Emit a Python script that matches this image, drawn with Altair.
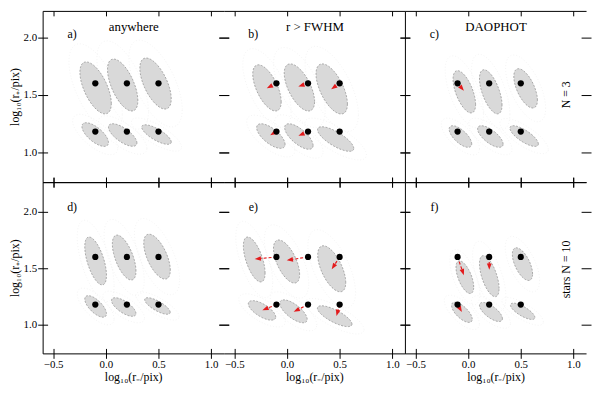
import altair as alt
import numpy as np
import pandas as pd

# ---------------- data ----------------
X_TRUE = [-0.1, 0.2, 0.5]          # log10(r-) of the input sources (dots)
Y_TRUE = [1.6, 1.18]               # log10(r+) upper row / lower row

PANEL_TAGS = ["a)", "b)", "c)", "d)", "e)", "f)"]
PANEL_TITLES = ["anywhere", "r > FWHM", "DAOPHOT", "", "", ""]
ROW_LABELS = ["N = 3", "stars  N = 10"]
X_TITLE = "log\u2081\u2080(r\u208b/pix)"
Y_TITLE = "log\u2081\u2080(r\u208a/pix)"
X_TICKS = [-0.5, 0.0, 0.5, 1.0]
Y_TICKS = [1.0, 1.5, 2.0]

# ellipse order in each panel: UL, UM, UR, LL, LM, LR
CX = [
    [-0.097, 0.160, 0.472, -0.101, 0.160, 0.481],
    [-0.190, 0.118, 0.425, -0.153, 0.113, 0.462],
    [-0.036, 0.215, 0.546, -0.073, 0.211, 0.532],
    [-0.097, 0.174, 0.486, -0.097, 0.170, 0.490],
    [-0.311, -0.004, 0.425, -0.237, 0.062, 0.453],
    [-0.031, 0.201, 0.516, -0.059, 0.217, 0.518],
]
CY = [
    [1.560, 1.585, 1.598, 1.154, 1.150, 1.154],
    [1.560, 1.564, 1.551, 1.141, 1.137, 1.115],
    [1.526, 1.526, 1.556, 1.137, 1.137, 1.141],
    [1.565, 1.595, 1.603, 1.164, 1.159, 1.168],
    [1.578, 1.560, 1.496, 1.129, 1.121, 1.078],
    [1.422, 1.431, 1.537, 1.112, 1.115, 1.121],
]
HX = [
    [0.149, 0.144, 0.149, 0.126, 0.135, 0.140],
    [0.135, 0.144, 0.149, 0.135, 0.135, 0.172],
    [0.107, 0.107, 0.112, 0.107, 0.121, 0.135],
    [0.103, 0.112, 0.126, 0.103, 0.116, 0.121],
    [0.103, 0.124, 0.133, 0.130, 0.130, 0.164],
    [0.084, 0.093, 0.096, 0.098, 0.109, 0.116],
]
HY = [
    [0.226, 0.226, 0.222, 0.103, 0.098, 0.085],
    [0.201, 0.205, 0.218, 0.107, 0.111, 0.107],
    [0.184, 0.192, 0.171, 0.094, 0.094, 0.090],
    [0.211, 0.198, 0.198, 0.095, 0.082, 0.073],
    [0.198, 0.190, 0.203, 0.086, 0.101, 0.092],
    [0.144, 0.181, 0.144, 0.089, 0.084, 0.072],
]
RHO = [-0.60, -0.60, -0.60, -0.68, -0.70, -0.76]

# arrow ends (estimated positions), None = no arrow
ARROW_END = [
    [None, None, None, None, None, None],
    [(-0.165, 1.570), (0.136, 1.581), (0.444, 1.564), (-0.134, 1.162), (0.136, 1.154), None],
    [(-0.059, 1.556), None, None, None, None, None],
    [None, None, None, None, None, None],
    [(-0.277, 1.584), (0.027, 1.575), (0.441, 1.515), (-0.206, 1.141), (0.090, 1.129), (0.478, 1.106)],
    [(-0.050, 1.466), (0.201, 1.515), None, (-0.074, 1.138), None, None],
]

# ---------------- layout / style ----------------
FONT = "Liberation Serif"
W, H = 183, 173
XDOM = [-0.6, 1.12]
YDOM = [[0.74, 2.23], [0.75, 2.26]]
GRAY = "#d9d9d9"
RED = "#e31a1c"


def area_df(p, k, n=48):
    rows = []
    u = -np.cos(np.linspace(0, np.pi, n))
    for i in range(6):
        s = np.sqrt(1 - RHO[i] ** 2) * np.sqrt(np.clip(1 - u ** 2, 0, None))
        xs = CX[p][i] + k * HX[p][i] * u
        lo = CY[p][i] + k * HY[p][i] * (RHO[i] * u - s)
        hi = CY[p][i] + k * HY[p][i] * (RHO[i] * u + s)
        for a, b, c in zip(xs, lo, hi):
            rows.append({"id": i, "x": a, "y": b, "y2": c})
    return pd.DataFrame(rows)


def outline_df(p, k, n=90):
    rows = []
    t = np.linspace(0, 2 * np.pi, n)
    for i in range(6):
        xs = CX[p][i] + k * HX[p][i] * np.cos(t)
        ys = CY[p][i] + k * HY[p][i] * (RHO[i] * np.cos(t) + np.sqrt(1 - RHO[i] ** 2) * np.sin(t))
        for j, (a, b) in enumerate(zip(xs, ys)):
            rows.append({"id": i, "o": j, "x": a, "y": b})
    return pd.DataFrame(rows)


def dots_df():
    return pd.DataFrame([{"x": X_TRUE[i % 3], "y": Y_TRUE[i // 3]} for i in range(6)])


def arrows_df(p, row):
    kx = W / (XDOM[1] - XDOM[0])
    ky = H / (YDOM[row][1] - YDOM[row][0])
    rows = []
    for i in range(6):
        e = ARROW_END[p][i]
        if e is None:
            continue
        x0, y0 = X_TRUE[i % 3], Y_TRUE[i // 3]
        ang = np.degrees(np.arctan2((e[0] - x0) * kx, (e[1] - y0) * ky)) % 360
        rows.append({"x": x0, "y": y0, "x2": e[0], "y2": e[1], "ang": float(ang)})
    return pd.DataFrame(rows, columns=["x", "y", "x2", "y2", "ang"])


def tick_axis(orient, size, labels=False, title=None, values=None):
    kw = dict(orient=orient, offset=-5, tickSize=size, ticks=True, tickColor="black",
              tickWidth=1, domain=False, grid=False, labels=labels, values=values,
              format=".1f", labelFont=FONT, labelFontSize=11, labelColor="black",
              titleFont=FONT, titleFontSize=12, titleFontWeight="normal", titleColor="black")
    if orient in ("bottom", "top"):
        kw.update(labelPadding=0, titlePadding=2)
    else:
        kw.update(labelPadding=1, titlePadding=2)
    kw["title"] = title
    return alt.Axis(**kw)


def dom_axis(orient):
    return alt.Axis(orient=orient, domain=True, domainColor="black", domainWidth=1,
                    ticks=False, labels=False, grid=False, title=None)


def panel(p):
    row, col = p // 3, p % 3
    xs = alt.Scale(domain=XDOM, nice=False, zero=False)
    ys = alt.Scale(domain=YDOM[row], nice=False, zero=False)

    ax_bottom = tick_axis("bottom", 10, labels=(row == 1), title=(X_TITLE if row == 1 else None), values=X_TICKS)
    ax_left = tick_axis("left", 10, labels=(col == 0), title=(Y_TITLE if col == 0 else None), values=Y_TICKS)
    ax_top = tick_axis("top", 5 if row == 0 else 10, values=X_TICKS)
    ax_right = tick_axis("right", 10, values=Y_TICKS)

    faint = alt.Chart(outline_df(p, 1.7)).mark_line(
        color="#efefef", strokeWidth=0.7, strokeDash=[1, 2]
    ).encode(
        x=alt.X("x:Q", scale=xs, axis=ax_bottom),
        y=alt.Y("y:Q", scale=ys, axis=ax_left),
        detail="id:N", order="o:Q",
    )
    fill = alt.Chart(area_df(p, 1.0)).mark_area(color=GRAY, opacity=1).encode(
        x=alt.X("x:Q", scale=xs, axis=ax_top),
        y=alt.Y("y:Q", scale=ys, axis=ax_right),
        y2="y2:Q",
        detail="id:N",
    )
    yl = dom_axis("left") if col in (0, 2) else None
    outline = alt.Chart(outline_df(p, 1.0)).mark_line(
        color="#8a8a8a", strokeWidth=0.7, strokeDash=[2, 1.5]
    ).encode(
        x=alt.X("x:Q", scale=xs, axis=dom_axis("bottom")),
        y=alt.Y("y:Q", scale=ys, axis=yl) if yl is not None else alt.Y("y:Q", scale=ys, axis=None),
        detail="id:N", order="o:Q",
    )
    dots = alt.Chart(dots_df()).mark_point(filled=True, color="black", size=40, opacity=1).encode(
        x=alt.X("x:Q", scale=xs, axis=dom_axis("top")),
        y=alt.Y("y:Q", scale=ys, axis=None),
    )
    layers = [faint, fill, outline]
    adf = arrows_df(p, row)
    if len(adf):
        rule = alt.Chart(adf).mark_rule(color=RED, strokeWidth=1.2, strokeDash=[3, 2]).encode(
            x=alt.X("x:Q", scale=xs, axis=None), y=alt.Y("y:Q", scale=ys, axis=None),
            x2="x2:Q", y2="y2:Q",
        )
        head = alt.Chart(adf).mark_point(
            shape="M0,-1L0.75,1L-0.75,1Z", filled=True, color=RED, size=40, opacity=1
        ).encode(
            x=alt.X("x2:Q", scale=xs, axis=None), y=alt.Y("y2:Q", scale=ys, axis=None),
            angle=alt.Angle("ang:Q", scale=None),
        )
        layers += [rule, head]
    layers.append(dots)

    tag = alt.Chart(pd.DataFrame([{"x": -0.32, "y": 2.03 if row == 0 else 2.04, "t": PANEL_TAGS[p]}])).mark_text(
        font=FONT, fontSize=12, color="black"
    ).encode(x=alt.X("x:Q", scale=xs, axis=None), y=alt.Y("y:Q", scale=ys, axis=None), text="t:N")
    layers.append(tag)
    if PANEL_TITLES[p]:
        ttl = alt.Chart(pd.DataFrame([{"x": 0.265, "y": 2.09, "t": PANEL_TITLES[p]}])).mark_text(
            font=FONT, fontSize=13, color="black"
        ).encode(x=alt.X("x:Q", scale=xs, axis=None), y=alt.Y("y:Q", scale=ys, axis=None), text="t:N")
        layers.append(ttl)
    if col == 2:
        rl = alt.Chart(pd.DataFrame([{"x": 0.93, "y": 1.5 if row == 0 else 1.49, "t": ROW_LABELS[row]}])).mark_text(
            font=FONT, fontSize=12, color="black", angle=270
        ).encode(x=alt.X("x:Q", scale=xs, axis=None), y=alt.Y("y:Q", scale=ys, axis=None), text="t:N")
        layers.append(rl)

    return alt.layer(*layers).resolve_axis(x="independent", y="independent").properties(width=W, height=H)


chart = alt.concat(*[panel(p) for p in range(6)], columns=3, spacing=0, bounds="flush").properties(
    padding={"left": 0, "top": 0, "right": 0, "bottom": 0}
).configure_view(stroke=None)

chart.save("out.html", embed_options={"renderer": "svg", "actions": False})
